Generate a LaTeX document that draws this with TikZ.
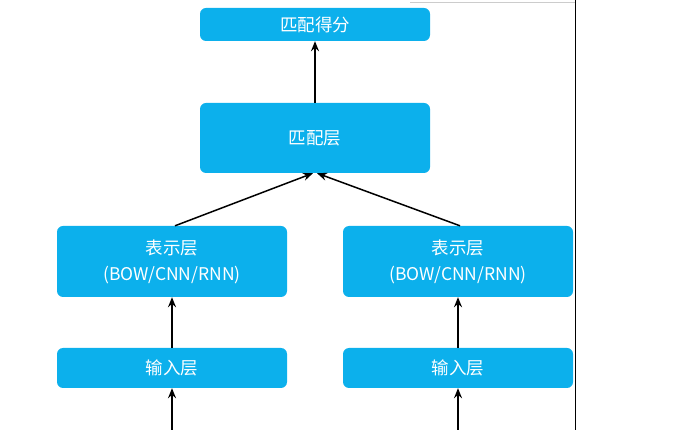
\documentclass[tikz,border=0pt]{standalone}
\usepackage{fontspec}
\setmainfont{Noto Sans CJK SC}
\usepackage{tikz}
\usetikzlibrary{arrows.meta,positioning}
\definecolor{boxblue}{RGB}{12,176,236}

\begin{document}
\begin{tikzpicture}[
					x = 1pt, y = -1pt,
					layer/.style = {draw = none, fill = boxblue, rounded corners = 6pt, text = white,
						minimum width = 230pt, align = center, font = \fontsize{17.5}{26}\selectfont},
					flow/.style = {line width = 1.5pt, -{Stealth[length=10pt,width=8pt]}}
					]

					\useasboundingbox (0,0) rectangle (689,430);

					% screenshot edges
					\draw[gray!40, line width = 0.8pt] (410,2) -- (575,2);
					\draw[line width = 1pt] (575,0) -- (575,430);

					\node[layer, minimum height = 33pt] (score) at (315,24.5) {匹配得分};
					\node[layer, minimum height = 70pt] (match) at (315,138) {匹配层};

					\node[layer, minimum height = 71pt] (repl) at (172,261.5) {表示层\\(BOW/CNN/RNN)};
					\node[layer, minimum height = 71pt] (repr) at (458,261.5) {表示层\\(BOW/CNN/RNN)};

					\node[layer, minimum height = 40pt] (inl) at (172,368) {输入层};
					\node[layer, minimum height = 40pt] (inr) at (458,368) {输入层};

					\coordinate (srcl) at (172,430);
					\coordinate (srcr) at (458,430);

					\draw[flow] (match) -- (score);
					\draw[flow] (repl.north) ++(3,0) -- ([xshift=-2pt]match.south);
					\draw[flow] (repr.north) ++(2,0) -- ([xshift=2pt]match.south);
					\draw[flow] (inl) -- (repl);
					\draw[flow] (inr) -- (repr);
					\draw[flow] (srcl) -- (inl);
					\draw[flow] (srcr) -- (inr);

				\end{tikzpicture}
\end{document}
